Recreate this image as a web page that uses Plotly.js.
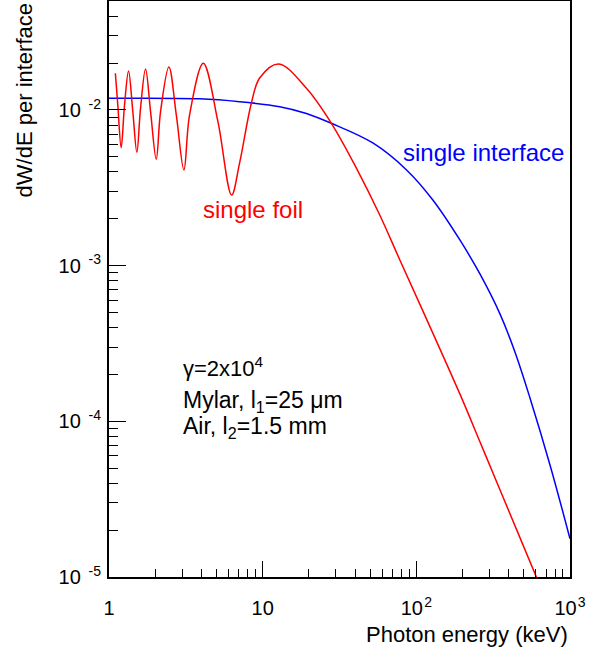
<!DOCTYPE html>
<html>
<head>
<meta charset="utf-8">
<script src="https://cdn.plot.ly/plotly-3.0.1.min.js"></script>
<style>
html,body{margin:0;padding:0;background:#fff;}
#chart{width:597px;height:649px;}
</style>
</head>
<body>
<div id="chart"></div>
<script>
// Single interface spectrum (blue)
const energyInterface = [1, 3.89, 7.08, 12.9, 19.27, 28.0, 52.1, 86.4, 128.1, 192, 259.3, 350, 438.3, 549, 741, 1000];
const dwdeInterface = [0.01189, 0.0118, 0.01131, 0.0105, 0.0095, 0.00821, 0.00614, 0.00412, 0.00264, 0.001462, 0.000884, 0.00049, 0.000279, 0.0001413, 5.245e-5, 1.76e-5];

// Single foil spectrum (red)
const energyFoil = [1.10, 1.141, 1.20, 1.262, 1.34, 1.429, 1.518, 1.604, 1.729, 1.864, 2.03, 2.165, 2.453, 2.741, 3.072, 3.345, 4.109, 5.115, 6.28, 7.08, 8.44, 9.56, 12.72, 19.27, 28.0, 40.8, 57.8, 78.1, 125.7, 197.9, 259.3, 350, 610, 687];
const dwdeFoil = [0.0172, 0.01077, 0.00573, 0.01077, 0.0178, 0.00975, 0.00535, 0.01025, 0.01834, 0.00975, 0.00482, 0.00975, 0.01889, 0.00929, 0.00412, 0.00929, 0.01995, 0.00841, 0.00284, 0.004567, 0.01104, 0.01605, 0.01975, 0.01378, 0.00821, 0.00422, 0.002116, 0.001088, 0.000384, 0.00014, 7.39e-5, 3.637e-5, 9.77e-6, 7.35e-6];

// Tick labels
const xTickVals = [1, 10, 100, 1000];
const xTickText = ['1', '10', '10<sup>\u200a2</sup>', '10<sup>\u200a3</sup>'];
const yTickVals = [1e-5, 1e-4, 1e-3, 1e-2];
const yTickText = ['10<sup>\u00a0\u00a0-5</sup>', '10<sup>\u00a0\u00a0-4</sup>', '10<sup>\u00a0\u00a0-3</sup>', '10<sup>\u00a0\u00a0-2</sup>'];

function minorTicks(lo, hi) {
  const out = [];
  for (let p = lo; p <= hi; p++) {
    for (let d = 2; d <= 9; d++) out.push(d * Math.pow(10, p));
  }
  return out;
}

const FONT = 'Liberation Sans, Arial, Helvetica, sans-serif';

const traces = [
  {
    x: energyInterface, y: dwdeInterface, type: 'scatter', mode: 'lines',
    line: {color: '#0000ff', width: 1.5, shape: 'spline', smoothing: 1},
    hoverinfo: 'skip'
  },
  {
    x: energyFoil, y: dwdeFoil, type: 'scatter', mode: 'lines',
    line: {color: '#ff0000', width: 1.5, shape: 'spline', smoothing: 1},
    hoverinfo: 'skip'
  }
];

const axisCommon = {
  type: 'log',
  showgrid: false, zeroline: false,
  showline: true, linecolor: '#000', linewidth: 2, mirror: true,
  ticks: 'inside', tickcolor: '#000', tickwidth: 1,
  tickfont: {family: FONT, size: 20, color: '#000'},
  tickmode: 'array'
};

const layout = {
  width: 597, height: 649,
  margin: {l: 109, r: 27, t: 1, b: 72},
  paper_bgcolor: '#fff', plot_bgcolor: '#fff',
  showlegend: false,
  font: {family: FONT, color: '#000'},
  xaxis: Object.assign({}, axisCommon, {
    range: [0, 3],
    tickvals: xTickVals, ticktext: xTickText,
    ticklen: 16,
    ticklabelstandoff: 12,
    minor: {ticks: 'inside', ticklen: 8, tickwidth: 1, tickcolor: '#000', tickvals: minorTicks(0, 2), showgrid: false}
  }),
  yaxis: Object.assign({}, axisCommon, {
    range: [-5, -1.3],
    tickvals: yTickVals, ticktext: yTickText,
    ticklen: 17,
    ticklabelstandoff: 2,
    minor: {ticks: 'inside', ticklen: 9, tickwidth: 1, tickcolor: '#000', tickvals: minorTicks(-5, -2), showgrid: false}
  }),
  annotations: [
    {text: 'Photon energy (keV)', xref: 'paper', yref: 'paper', x: 1.0, y: -0.099,
     xanchor: 'right', yanchor: 'middle', showarrow: false,
     font: {family: FONT, size: 22, color: '#000'}},
    {text: 'dW/dE per interface', xref: 'paper', yref: 'paper', x: -0.1835, y: 1.0,
     xanchor: 'center', yanchor: 'top', textangle: -90, showarrow: false,
     font: {family: FONT, size: 22, color: '#000'}},
    {text: 'single foil', xref: 'x', yref: 'y', x: 0.600, y: -2.642,
     xanchor: 'left', yanchor: 'middle', showarrow: false,
     font: {family: FONT, size: 24, color: '#ff0000'}},
    {text: 'single interface', xref: 'x', yref: 'y', x: 1.900, y: -2.270,
     xanchor: 'left', yanchor: 'middle', showarrow: false,
     font: {family: FONT, size: 24, color: '#0000ff'}},
    {text: 'γ=2x10<sup>4</sup>', xref: 'x', yref: 'y', x: 0.468, y: -3.651,
     xanchor: 'left', yanchor: 'middle', showarrow: false,
     font: {family: FONT, size: 22, color: '#000'}},
    {text: 'Mylar, l<sub>1</sub>=25 μm', xref: 'x', yref: 'y', x: 0.468, y: -3.8755,
     xanchor: 'left', yanchor: 'middle', showarrow: false,
     font: {family: FONT, size: 23, color: '#000'}},
    {text: 'Air, l<sub>2</sub>=1.5 mm', xref: 'x', yref: 'y', x: 0.468, y: -4.04,
     xanchor: 'left', yanchor: 'middle', showarrow: false,
     font: {family: FONT, size: 23, color: '#000'}}
  ]
};

Plotly.newPlot('chart', traces, layout, {staticPlot: true, displayModeBar: false});
</script>
</body>
</html>
